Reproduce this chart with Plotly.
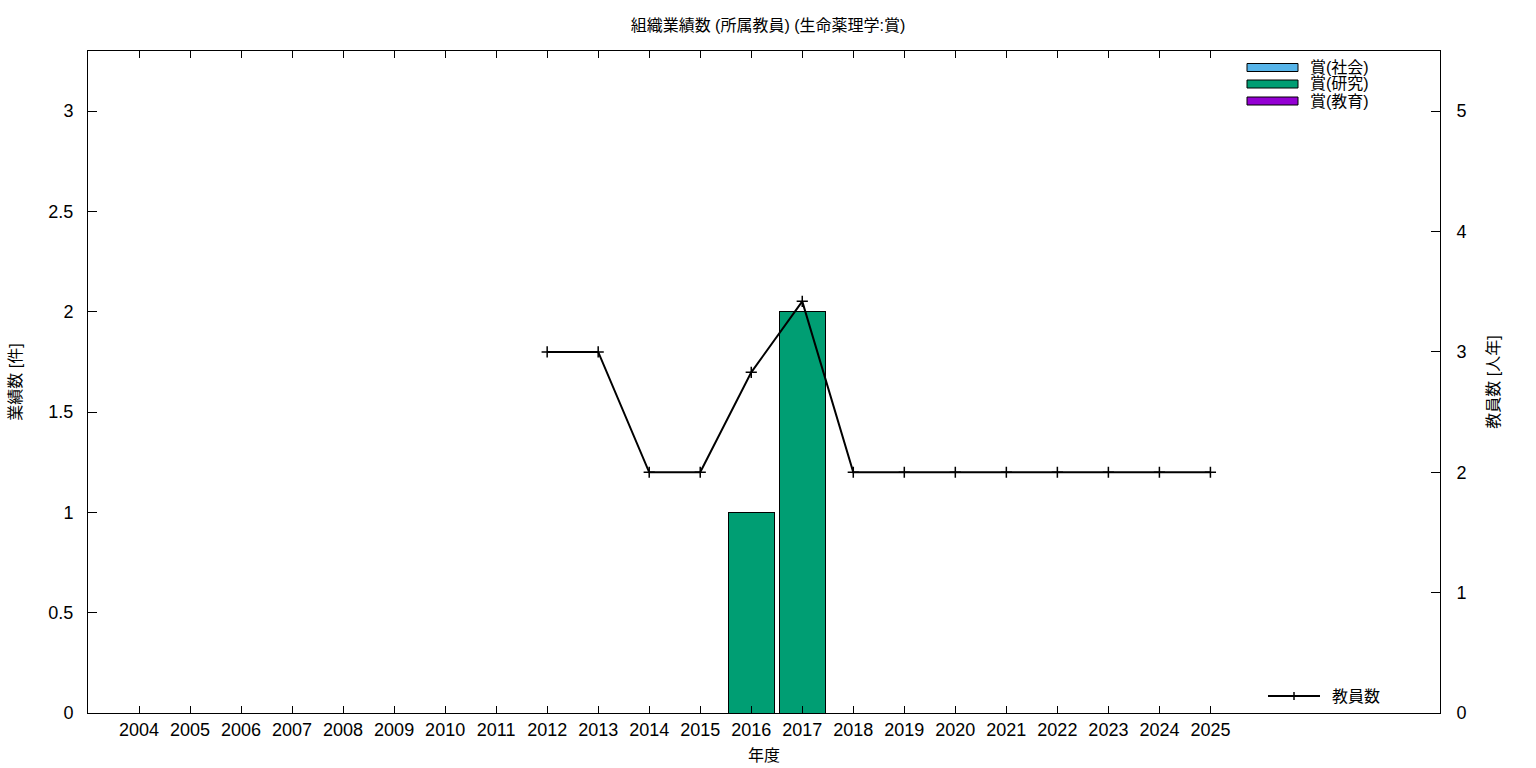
import plotly.graph_objects as go

years = list(range(2004, 2026))
award_social = [None] * 22
award_research = [None] * 12 + [1, 2] + [None] * 8
award_education = [None] * 22

staff_years = list(range(2012, 2026))
staff_counts = [3, 3, 2, 2, 2.83, 3.42, 2, 2, 2, 2, 2, 2, 2, 2]

bar_names = ["賞(社会)", "賞(研究)", "賞(教育)"]
bar_colors = ["#56B4E9", "#009E73", "#9400D3"]
line_name = "教員数"

FONT = "Liberation Sans, Noto Sans CJK JP, sans-serif"
W, H = 1536, 768
L, R, T, B = 88, 96, 51, 55

fig = go.Figure()
for name, vals, col in zip(bar_names, [award_social, award_research, award_education], bar_colors):
    fig.add_trace(go.Bar(x=years, y=vals, name=name, width=0.9,
                         marker=dict(color=col, line=dict(color="black", width=1)),
                         showlegend=False))

fig.add_trace(go.Scatter(x=staff_years, y=staff_counts, name=line_name, yaxis="y2",
                         mode="lines+markers",
                         line=dict(color="black", width=2),
                         marker=dict(symbol="cross-thin", size=8, line=dict(color="black", width=1.5)),
                         showlegend=False))

fig.update_layout(
    width=W, height=H, autosize=False,
    margin=dict(l=L, r=R, t=T, b=B),
    paper_bgcolor="white", plot_bgcolor="white",
    barmode="stack",
    font=dict(family=FONT, size=18, color="black"),
    title=dict(text="組織業績数 (所属教員) (生命薬理学:賞)", x=0.5, xanchor="center",
               y=1 - 25 / H, yanchor="middle", font=dict(size=16, color="black")),
    xaxis=dict(range=[2003, 2029.5], tickvals=years, ticktext=[str(y) for y in years],
               ticks="inside", ticklen=7, tickcolor="black", showline=True, linecolor="black",
               linewidth=1, mirror="ticks", showgrid=False, zeroline=False, automargin=False,
               title=dict(text="年度", font=dict(size=16), standoff=11),
               tickfont=dict(size=18)),
    yaxis=dict(range=[0, 3.3], tickvals=[0, 0.5, 1, 1.5, 2, 2.5, 3],
               ticktext=["0", "0.5", "1", "1.5", "2", "2.5", "3"],
               ticks="inside", ticklen=9, tickcolor="black", showline=True, linecolor="black",
               linewidth=1, showgrid=False, zeroline=False, ticklabelstandoff=10, automargin=False,
               title=dict(text="業績数 [件]", font=dict(size=16), standoff=22),
               tickfont=dict(size=18)),
    yaxis2=dict(range=[0, 5.5], tickvals=[0, 1, 2, 3, 4, 5], overlaying="y", side="right",
                ticks="inside", ticklen=9, tickcolor="black", showline=True, linecolor="black",
                linewidth=1, showgrid=False, zeroline=False, ticklabelstandoff=12, automargin=False,
                title=dict(text="教員数 [人年]", font=dict(size=16), standoff=22),
                tickfont=dict(size=18)),
)

# manual legend (gnuplot style)
PW = W - L - R
PH = H - T - B
shapes = []
annotations = []
legend_rows = [67.5, 84, 101]
for name, col, yc in zip(bar_names, bar_colors, legend_rows):
    shapes.append(dict(type="rect", xref="paper", yref="paper",
                       x0=(1247 - L) / PW, x1=(1298 - L) / PW,
                       y0=(H - B - (yc + 4)) / PH, y1=(H - B - (yc - 4)) / PH,
                       fillcolor=col, line=dict(color="black", width=1)))
    annotations.append(dict(xref="paper", yref="paper",
                            x=(1308 - L) / PW, y=(H - B - yc) / PH,
                            text=name, showarrow=False, xanchor="left", yanchor="middle",
                            font=dict(size=16, color="black")))

ly = 696
shapes.append(dict(type="line", xref="paper", yref="paper",
                   x0=(1268 - L) / PW, x1=(1320 - L) / PW,
                   y0=(H - B - ly) / PH, y1=(H - B - ly) / PH,
                   line=dict(color="black", width=2)))
shapes.append(dict(type="line", xref="paper", yref="paper",
                   x0=(1294 - L) / PW, x1=(1294 - L) / PW,
                   y0=(H - B - ly + 4) / PH, y1=(H - B - ly - 4) / PH,
                   line=dict(color="black", width=1.5)))
annotations.append(dict(xref="paper", yref="paper",
                        x=(1330 - L) / PW, y=(H - B - ly) / PH,
                        text=line_name, showarrow=False, xanchor="left", yanchor="middle",
                        font=dict(size=16, color="black")))

fig.update_layout(shapes=shapes, annotations=annotations)
fig.write_html("out.html", config={"displayModeBar": False},
               post_script="document.body.style.margin='0';document.body.style.overflow='hidden';")
